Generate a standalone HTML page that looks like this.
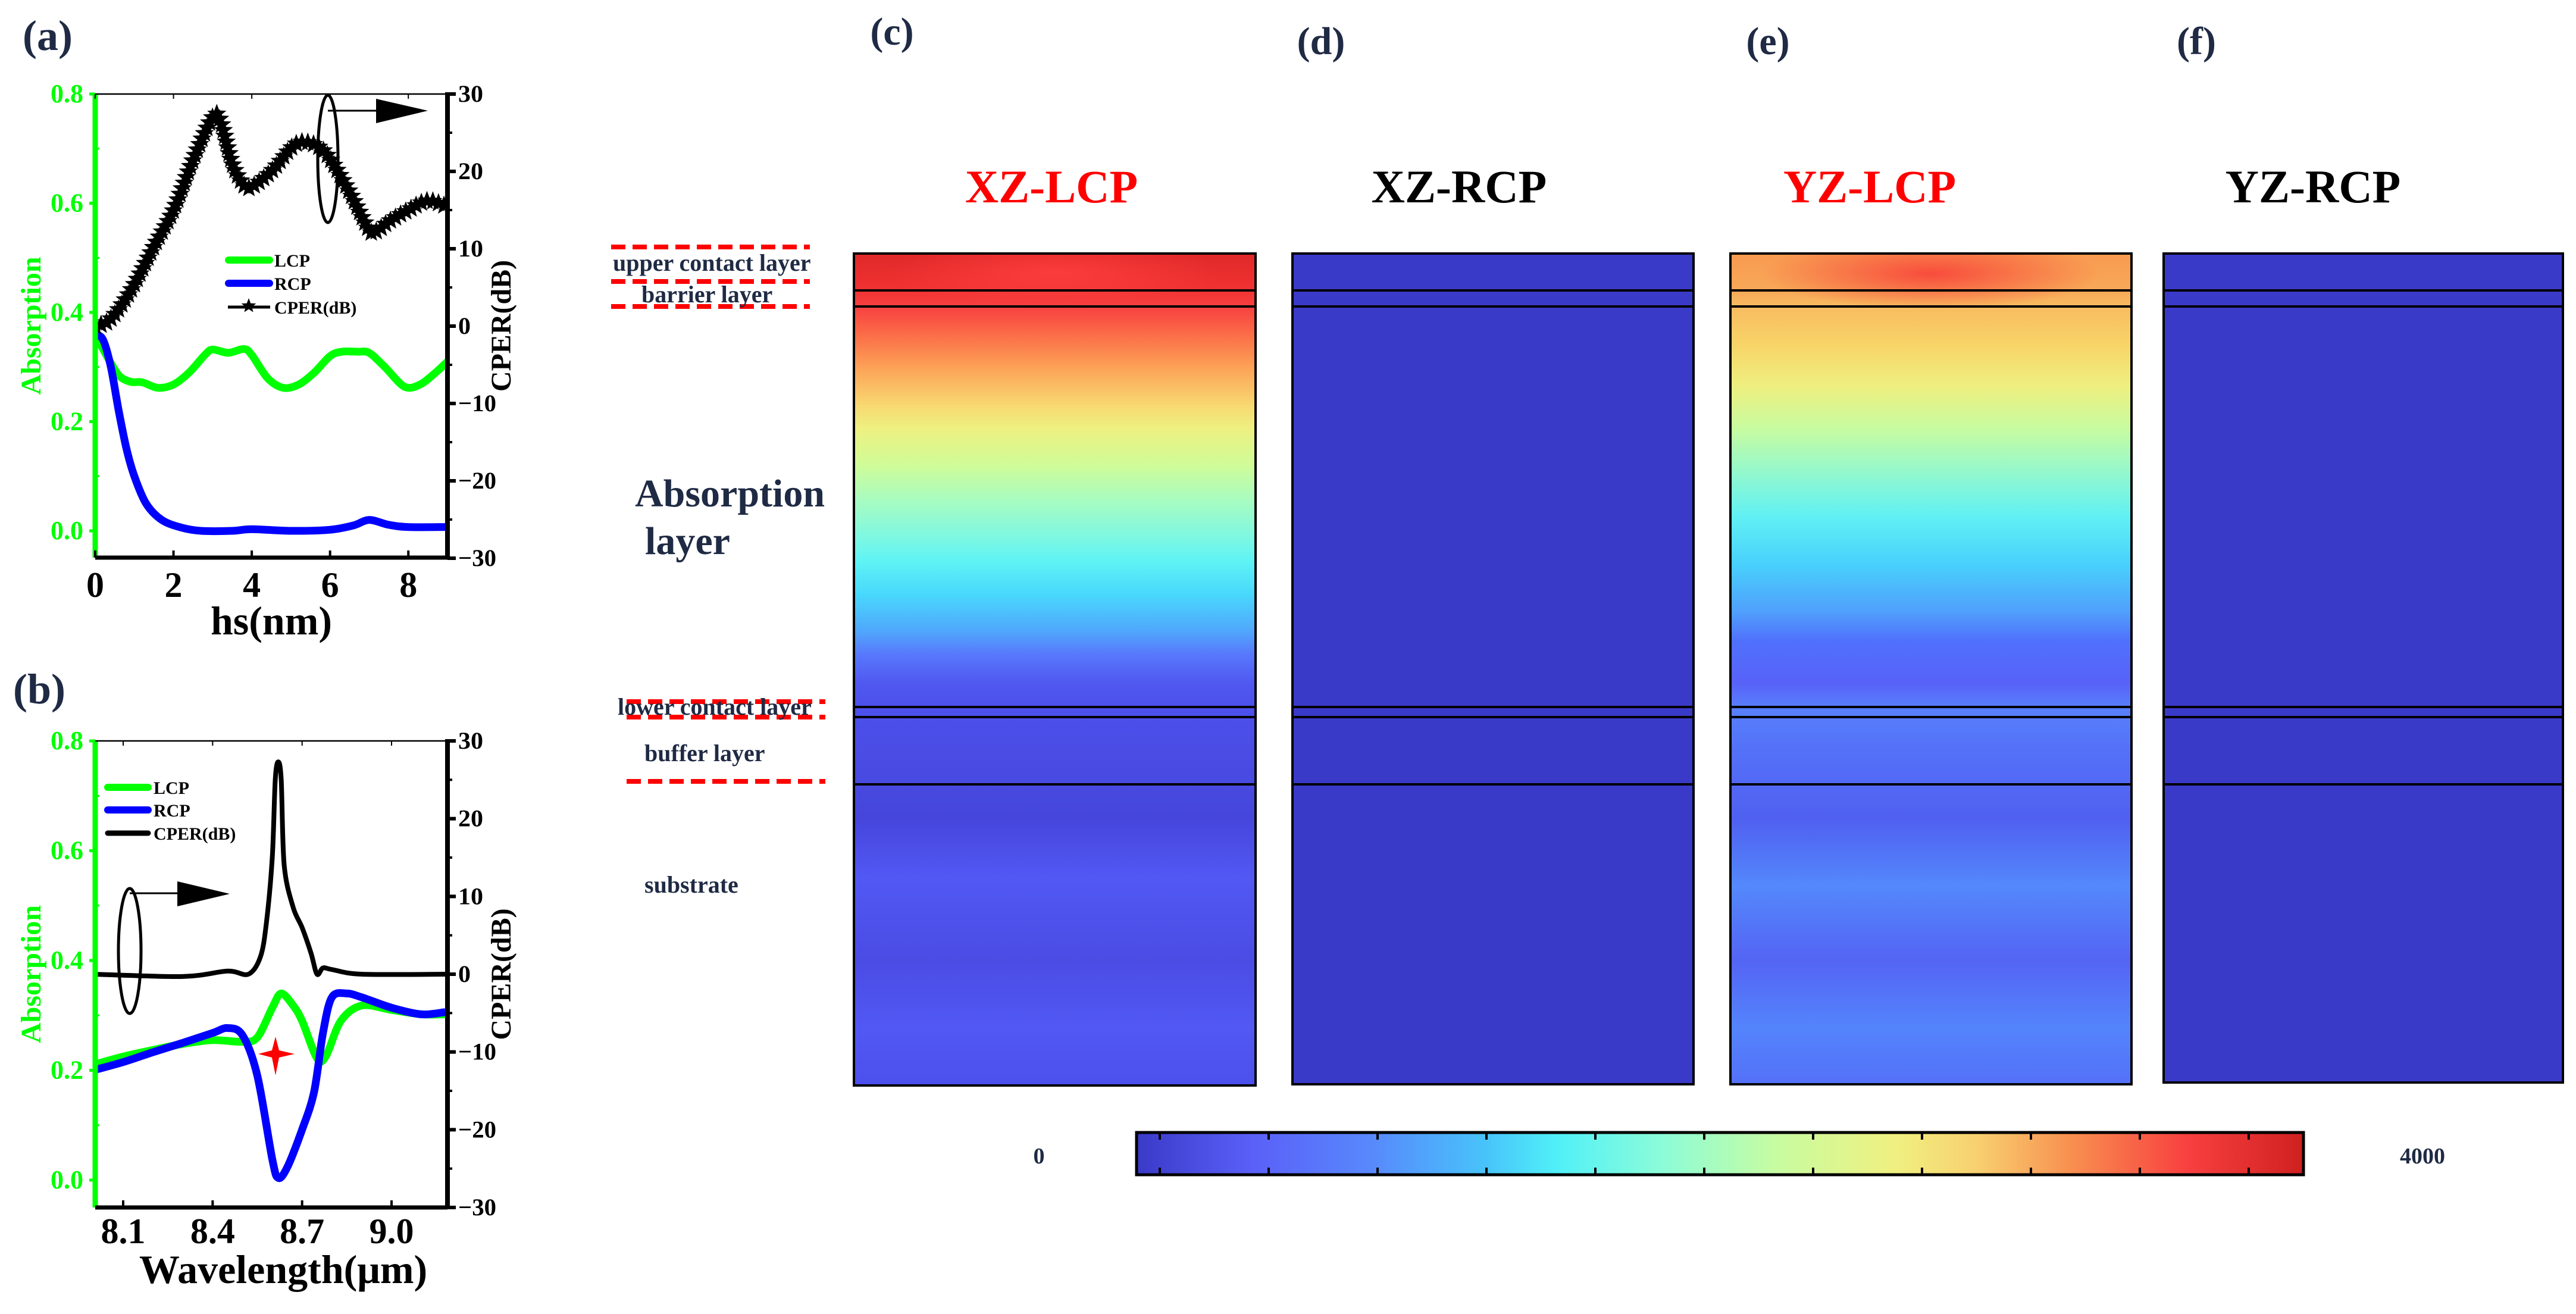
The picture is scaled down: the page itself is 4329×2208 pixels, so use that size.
<!DOCTYPE html>
<html><head><meta charset="utf-8">
<style>
html,body{margin:0;padding:0;background:#fff;}
svg{display:block;}
svg text{font-family:"Liberation Serif","DejaVu Serif",serif;font-weight:bold;}
</style></head>
<body>
<svg id="fig" xmlns="http://www.w3.org/2000/svg" width="4329" height="2208" viewBox="0 0 4329 2208">
<defs>
<linearGradient id="gC" x1="0" y1="426" x2="0" y2="1824" gradientUnits="userSpaceOnUse">
<stop offset="0" stop-color="#e02828"/><stop offset="0.044" stop-color="#f03232"/>
<stop offset="0.064" stop-color="#f84040"/><stop offset="0.1" stop-color="#fb7048"/>
<stop offset="0.139" stop-color="#fca458"/><stop offset="0.182" stop-color="#f8d870"/>
<stop offset="0.21" stop-color="#eef080"/><stop offset="0.254" stop-color="#d0fc98"/>
<stop offset="0.296" stop-color="#a8fcc0"/><stop offset="0.339" stop-color="#80f8e0"/>
<stop offset="0.368" stop-color="#60f4f4"/><stop offset="0.41" stop-color="#48d8fc"/>
<stop offset="0.453" stop-color="#50a8fc"/><stop offset="0.482" stop-color="#5878fc"/>
<stop offset="0.517" stop-color="#5058f0"/><stop offset="0.546" stop-color="#4c50ec"/>
<stop offset="0.6" stop-color="#4a4ce4"/><stop offset="0.68" stop-color="#4646dc"/>
<stop offset="0.75" stop-color="#5258f4"/><stop offset="0.85" stop-color="#4a4ce4"/>
<stop offset="0.93" stop-color="#5258f4"/><stop offset="1" stop-color="#4c50ec"/>
</linearGradient>
<linearGradient id="gE" x1="0" y1="426" x2="0" y2="1824" gradientUnits="userSpaceOnUse">
<stop offset="0" stop-color="#f89a50"/><stop offset="0.044" stop-color="#f8a858"/>
<stop offset="0.064" stop-color="#f8bc60"/><stop offset="0.11" stop-color="#f8d468"/>
<stop offset="0.16" stop-color="#eef080"/><stop offset="0.21" stop-color="#c8fca0"/>
<stop offset="0.267" stop-color="#90f8d0"/><stop offset="0.317" stop-color="#60f0f4"/>
<stop offset="0.374" stop-color="#48d0fc"/><stop offset="0.43" stop-color="#50a0fc"/>
<stop offset="0.466" stop-color="#5070fc"/><stop offset="0.517" stop-color="#5862f8"/>
<stop offset="0.546" stop-color="#5880fc"/><stop offset="0.6" stop-color="#5470f8"/>
<stop offset="0.68" stop-color="#5060f0"/><stop offset="0.76" stop-color="#5488fc"/>
<stop offset="0.85" stop-color="#5464f4"/><stop offset="0.93" stop-color="#5484fc"/>
<stop offset="1" stop-color="#5470f8"/>
</linearGradient>
<radialGradient id="gCtop" cx="0.5" cy="0.5" r="0.5">
<stop offset="0" stop-color="#ff4040" stop-opacity="0.8"/><stop offset="1" stop-color="#ff4040" stop-opacity="0"/>
</radialGradient>
<radialGradient id="gEtop" cx="0.5" cy="0.5" r="0.5">
<stop offset="0" stop-color="#f83c38" stop-opacity="0.85"/><stop offset="1" stop-color="#f83c38" stop-opacity="0"/>
</radialGradient>
<linearGradient id="gBar" x1="0" y1="0" x2="1" y2="0">
<stop offset="0" stop-color="#3a3ac8"/><stop offset="0.1" stop-color="#5a60f8"/>
<stop offset="0.2" stop-color="#5888fc"/><stop offset="0.3" stop-color="#48c4fa"/>
<stop offset="0.36" stop-color="#50f0f8"/><stop offset="0.45" stop-color="#8cfcd8"/>
<stop offset="0.55" stop-color="#c8fca0"/><stop offset="0.65" stop-color="#f0f080"/>
<stop offset="0.72" stop-color="#f8d070"/><stop offset="0.8" stop-color="#f89050"/>
<stop offset="0.9" stop-color="#f84040"/><stop offset="1" stop-color="#d02020"/>
</linearGradient>
</defs>
<g id="root" font-family="Liberation Serif, DejaVu Serif, serif" font-weight="bold"></g>
</svg>
<script>
// ---------- Panel (a) data ----------
const aLcpX = [0,0.3,0.6,0.9,1.2,1.6,2.0,2.4,2.8,3.0,3.4,3.8,4.0,4.4,4.8,5.2,5.6,6.0,6.3,6.7,7.0,7.4,7.9,8.3,8.7,9.0];
const aLcpY = [0.36,0.32,0.285,0.273,0.272,0.262,0.268,0.29,0.322,0.332,0.326,0.333,0.322,0.28,0.262,0.268,0.29,0.32,0.328,0.328,0.326,0.3,0.264,0.268,0.29,0.31];
const aRcpX = [0,0.2,0.4,0.6,0.8,1.0,1.3,1.7,2.2,2.7,3.5,4.0,5.0,6.0,6.6,7.0,7.5,8.0,9.0];
const aRcpY = [0.36,0.35,0.3,0.22,0.15,0.1,0.05,0.02,0.006,0.0,0.0,0.003,0.0,0.002,0.01,0.02,0.011,0.007,0.007];
const aCperX = [0,0.3,0.6,1.0,1.5,2.0,2.5,3.0,3.2,3.5,3.8,4.0,4.5,5.0,5.3,5.7,6.0,6.5,7.0,7.2,7.5,8.0,8.5,9.0];
const aCperY = [0,0.5,2.2,5.4,10.3,15,21.5,27,26.5,21,18.2,18,20,23,23.8,23.2,21.6,17.3,12.4,12.3,13.5,15,16.2,15.4];
const aXTicks = [0,2,4,6,8];
const aYTicks = [0.0,0.2,0.4,0.6,0.8];
const cperTicks = [-30,-20,-10,0,10,20,30];
// ---------- Panel (b) data ----------
const bLcpX = [8.0,8.1,8.2,8.3,8.4,8.5,8.55,8.6,8.63,8.67,8.7,8.75,8.78,8.83,8.9,9.0,9.1,9.18];
const bLcpY = [0.21,0.225,0.237,0.248,0.255,0.252,0.26,0.314,0.34,0.318,0.29,0.222,0.226,0.29,0.318,0.31,0.302,0.302];
const bRcpX = [8.0,8.1,8.2,8.3,8.4,8.45,8.5,8.55,8.6,8.62,8.65,8.7,8.74,8.77,8.8,8.85,8.9,9.0,9.1,9.18];
const bRcpY = [0.2,0.215,0.233,0.25,0.268,0.277,0.264,0.19,0.038,0.004,0.023,0.092,0.16,0.268,0.333,0.34,0.333,0.314,0.302,0.306];
const bCperX = [8.0,8.3,8.45,8.52,8.56,8.58,8.6,8.61,8.62,8.63,8.64,8.67,8.7,8.73,8.75,8.77,8.8,8.9,9.18];
const bCperY = [0,-0.3,0.4,0,2.2,6.5,15,25,27.3,25,14,8.6,6,2.7,0,0.8,0.6,0,0];
const bXTicks = [8.1,8.4,8.7,9.0];
const bYTicks = [0.0,0.2,0.4,0.6,0.8];
// ---------- colorbar ----------
const cbarLabels = ["0","4000"];
const cbarTickCount = 11;

const NS = "http://www.w3.org/2000/svg";
const root = document.getElementById('root');
function mk(tag, attrs, parent, txt){
  const e = document.createElementNS(NS, tag);
  for (const k in attrs) e.setAttribute(k, attrs[k]);
  if (txt !== undefined) e.textContent = txt;
  (parent||root).appendChild(e);
  return e;
}
function lin(d0,d1,r0,r1){ return v => r0 + (v-d0)/(d1-d0)*(r1-r0); }
function smoothPath(xs, ys, sx, sy){
  const p = xs.map((x,i)=>[sx(x), sy(ys[i])]);
  let d = `M${p[0][0]},${p[0][1]}`;
  for (let i=0;i<p.length-1;i++){
    const p0=p[Math.max(0,i-1)], p1=p[i], p2=p[i+1], p3=p[Math.min(p.length-1,i+2)];
    const t=0.16;
    const c1=[p1[0]+(p2[0]-p0[0])*t, p1[1]+(p2[1]-p0[1])*t];
    const c2=[p2[0]-(p3[0]-p1[0])*t, p2[1]-(p3[1]-p1[1])*t];
    d += ` C${c1[0]},${c1[1]} ${c2[0]},${c2[1]} ${p2[0]},${p2[1]}`;
  }
  return d;
}
function star5(cx, cy, r){
  let d='';
  for (let i=0;i<10;i++){
    const a = -Math.PI/2 + i*Math.PI/5, rr = i%2? r*0.42 : r;
    d += (i?'L':'M') + (cx+rr*Math.cos(a)).toFixed(1)+','+(cy+rr*Math.sin(a)).toFixed(1);
  }
  return d+'Z';
}

function panel(cfg){
  const {L,R,T,B,sx,sy,sy2,g} = cfg;
  let e = mk('line',{x1:L,y1:T,x2:L,y2:B,stroke:'#00ff00','stroke-width':9},g);
   
  e = mk('line',{x1:L,y1:B,x2:R,y2:B,stroke:'#000','stroke-width':7},g);
   
  e = mk('line',{x1:L,y1:T,x2:R,y2:T,stroke:'#000','stroke-width':2.5},g);
   
  e = mk('line',{x1:R,y1:T-3,x2:R,y2:B+3,stroke:'#000','stroke-width':8},g);
   
  cfg.yTicks.forEach(v=>{
    const y = sy(v);
    mk('line',{x1:L-10,y1:y,x2:L,y2:y,stroke:'#00ff00','stroke-width':5},g);
    const t = mk('text',{x:L-20,y:y+14,'text-anchor':'end','font-size':44,fill:'#00ff00'},g,v.toFixed(1));
     
  });
  cfg.yTicks.slice(0,-1).forEach(v=>{ const y=sy(v+0.1); mk('line',{x1:L,y1:y,x2:L+7,y2:y,stroke:'#00ff00','stroke-width':3},g); });
  cperTicks.forEach(v=>{
    const y = sy2(v);
    mk('line',{x1:R,y1:y,x2:R+14,y2:y,stroke:'#000','stroke-width':6},g);
    if (v<30) mk('line',{x1:R,y1:sy2(v+5),x2:R+8,y2:sy2(v+5),stroke:'#000','stroke-width':4},g);
    const t = mk('text',{x:R+18,y:y+13,'font-size':40,fill:'#000',textLength:(String(Math.abs(v)).length*21+(v<0?22:0)),lengthAdjust:'spacingAndGlyphs'},g,(v<0?'\u2212':'')+Math.abs(v));
     
  });
  cfg.xTicks.forEach(v=>{
    const x = sx(v);
    mk('line',{x1:x,y1:B,x2:x,y2:B-12,stroke:'#000','stroke-width':4},g);
    mk('line',{x1:x,y1:T,x2:x,y2:T+8,stroke:'#000','stroke-width':2},g);
    const t = mk('text',{x:x,y:cfg.xlabY,'text-anchor':'middle','font-size':60,fill:'#000'},g,cfg.fmt(v));
     
  });
  let t = mk('text',{x:(L+R)/2+(cfg.xtOff||0),y:cfg.xtitleY,'text-anchor':'middle','font-size':68,fill:'#000'},g,cfg.xtitle);
   
  t = mk('text',{x:0,y:0,'text-anchor':'middle','font-size':48,fill:'#00ff00',transform:`translate(${L-92},${(T+B)/2}) rotate(-90)`},g,'Absorption');
   
  t = mk('text',{x:0,y:0,'text-anchor':'middle','font-size':48,fill:'#000',transform:`translate(${R+106},${(T+B)/2}) rotate(-90)`},g,'CPER(dB)');
   
}

// ===== Panel (a) =====
(function(){
  const g = mk('g',{});  
  const L=160,R=752,T=158,B=937;
  const sx = lin(0,9,160,752), sy = lin(0,0.8,892,158), sy2 = lin(-30,30,938,158);
  let e = mk('text',{x:38,y:84,'font-size':72,fill:'#1f2a44'},g,'(a)');
   
  const clip = mk('clipPath',{id:'clipA'},g); mk('rect',{x:L,y:T-20,width:R-L,height:B-T+20},clip);
  const pg = mk('g',{'clip-path':'url(#clipA)'},g);
  e = mk('path',{d:smoothPath(aLcpX,aLcpY,sx,sy),fill:'none',stroke:'#00ff00','stroke-width':13,'stroke-linejoin':'round'},pg);
   
  e = mk('path',{d:smoothPath(aRcpX,aRcpY,sx,sy),fill:'none',stroke:'#0000ff','stroke-width':13,'stroke-linejoin':'round'},pg);
   
  const cp = mk('path',{d:smoothPath(aCperX,aCperY,sx,sy2),fill:'none',stroke:'#000','stroke-width':8},pg);
   
  const len = cp.getTotalLength();
  const sg = mk('g',{},pg);  
  for (let s=0; s<=len; s+=10){
    const p = cp.getPointAtLength(s);
    mk('path',{d:star5(p.x,p.y,17),fill:'#000'},sg);
  }
  panel({L,R,T,B,sx,sy,sy2,g,yTicks:aYTicks,xTicks:aXTicks,fmt:v=>String(v),xlabY:1003,xtitleY:1066,xtitle:'hs(nm)',xtOff:0});
  e = mk('ellipse',{cx:551,cy:267,rx:17,ry:107,fill:'none',stroke:'#000','stroke-width':5},g);
   
  mk('line',{x1:551,y1:186,x2:640,y2:186,stroke:'#000','stroke-width':3},g);
  e = mk('path',{d:'M632,166 L719,186 L632,207 Z',fill:'#000'},g);
   
  const lg = mk('g',{},g);  
  mk('line',{x1:384,y1:437,x2:453,y2:437,stroke:'#00ff00','stroke-width':12,'stroke-linecap':'round'},lg);
  mk('text',{x:461,y:448,'font-size':30,fill:'#000'},lg,'LCP');
  mk('line',{x1:384,y1:476,x2:453,y2:476,stroke:'#0000ff','stroke-width':12,'stroke-linecap':'round'},lg);
  mk('text',{x:461,y:487,'font-size':30,fill:'#000'},lg,'RCP');
  mk('line',{x1:383,y1:516,x2:454,y2:516,stroke:'#000','stroke-width':5},lg);
  mk('path',{d:star5(418,514,13),fill:'#000'},lg);
  mk('text',{x:461,y:527,'font-size':30,fill:'#000'},lg,'CPER(dB)');
})();

// ===== Panel (b) =====
(function(){
  const g = mk('g',{});  
  const L=160,R=752,T=1245,B=2029;
  const sx = lin(8.1,9.0,207,658), sy = lin(0,0.8,1983,1245), sy2 = lin(-30,30,2029,1245);
  let e = mk('text',{x:22,y:1182,'font-size':72,fill:'#1f2a44'},g,'(b)');
   
  const clip = mk('clipPath',{id:'clipB'},g); mk('rect',{x:L,y:T-20,width:R-L,height:B-T+20},clip);
  const pg = mk('g',{'clip-path':'url(#clipB)'},g);
  e = mk('path',{d:smoothPath(bLcpX,bLcpY,sx,sy),fill:'none',stroke:'#00ff00','stroke-width':13,'stroke-linejoin':'round'},pg);
   
  e = mk('path',{d:smoothPath(bRcpX,bRcpY,sx,sy),fill:'none',stroke:'#0000ff','stroke-width':13,'stroke-linejoin':'round'},pg);
   
  e = mk('path',{d:smoothPath(bCperX,bCperY,sx,sy2),fill:'none',stroke:'#000','stroke-width':8,'stroke-linejoin':'round'},pg);
   
  panel({L,R,T,B,sx,sy,sy2,g,yTicks:bYTicks,xTicks:bXTicks,fmt:v=>v.toFixed(1),xlabY:2089,xtitleY:2156,xtitle:'Wavelength(\u03bcm)',xtOff:20});
  e = mk('ellipse',{cx:218,cy:1598,rx:19,ry:105,fill:'none',stroke:'#000','stroke-width':5},g);
   
  mk('line',{x1:218,y1:1501,x2:305,y2:1501,stroke:'#000','stroke-width':3},g);
  e = mk('path',{d:'M298,1481 L386,1502 L298,1523 Z',fill:'#000'},g);
   
  e = mk('path',{d:'M463,1742 L469,1765 L495,1771 L469,1777 L463,1807 L457,1777 L434,1771 L457,1765 Z',fill:'#ff0000'},g);
   
  const lg = mk('g',{},g);  
  mk('line',{x1:181,y1:1323,x2:249,y2:1323,stroke:'#00ff00','stroke-width':12,'stroke-linecap':'round'},lg);
  mk('text',{x:258,y:1334,'font-size':30,fill:'#000'},lg,'LCP');
  mk('line',{x1:181,y1:1361,x2:249,y2:1361,stroke:'#0000ff','stroke-width':12,'stroke-linecap':'round'},lg);
  mk('text',{x:258,y:1372,'font-size':30,fill:'#000'},lg,'RCP');
  mk('line',{x1:181,y1:1400,x2:249,y2:1400,stroke:'#000','stroke-width':9,'stroke-linecap':'round'},lg);
  mk('text',{x:258,y:1411,'font-size':30,fill:'#000'},lg,'CPER(dB)');
})();

// ===== Field maps =====
const mapNames = ["XZ-LCP","XZ-RCP","YZ-LCP","YZ-RCP"];
const mapLetters = ["(c)","(d)","(e)","(f)"];
(function(){
  const maps = [
    {x:1435,w:675,b:1824,fill:'url(#gC)',top:'url(#gCtop)',tc:'#ff0000',lab:[1499,75],tx:1767},
    {x:2172,w:674,b:1822,fill:'#3a3ac8',tc:'#000',lab:[2220,91],tx:2452},
    {x:2908,w:674,b:1822,fill:'url(#gE)',top:'url(#gEtop)',tc:'#ff0000',lab:[2971,91],tx:3142},
    {x:3636,w:671,b:1819,fill:'#3a3ac8',tc:'#000',lab:[3691,91],tx:3887}
  ];
  maps.forEach((m,i)=>{
    const g = mk('g',{});  
    let e = mk('text',{x:m.lab[0],y:m.lab[1],'font-size':66,fill:'#1f2a44','text-anchor':'middle'},g,mapLetters[i]);
     
    e = mk('text',{x:m.tx,y:340,'font-size':78,fill:m.tc,'text-anchor':'middle'},g,mapNames[i]);
     
    e = mk('rect',{x:m.x,y:426,width:m.w,height:m.b-426,fill:m.fill},g);
     
    if (m.top){
      const cid = 'clipMap'+i;
      const c = mk('clipPath',{id:cid},g); mk('rect',{x:m.x,y:426,width:m.w,height:m.b-426},c);
      mk('ellipse',{cx:m.x+m.w/2,cy:460,rx:m.w*0.42,ry:60,fill:m.top,'clip-path':`url(#${cid})`},g);
    }
    mk('rect',{x:m.x,y:426,width:m.w,height:m.b-426,fill:'none',stroke:'#000','stroke-width':4},g);
    [488,515,1188,1205,1318].forEach(y=>{
      mk('line',{x1:m.x,y1:y,x2:m.x+m.w,y2:y,stroke:'#000','stroke-width':4},g);
    });
  });
  const ag = mk('g',{});  
  const dash = {stroke:'#ff0000','stroke-width':8,'stroke-dasharray':'24,12'};
  [[1027,1361,415],[1027,1361,473],[1027,1361,515],[1053,1387,1179],[1053,1387,1205],[1053,1387,1313]].forEach(d=>{
    mk('line',Object.assign({x1:d[0],y1:d[2],x2:d[1],y2:d[2]},dash),ag);
  });
  const ts = {'font-size':40,fill:'#1f2a44'};
  mk('text',Object.assign({x:1030,y:455},ts),ag,'upper contact layer');
  mk('text',Object.assign({x:1078,y:508},ts),ag,'barrier layer');
  mk('text',Object.assign({x:1038,y:1201},ts),ag,'lower contact layer');
  mk('text',Object.assign({x:1083,y:1279},ts),ag,'buffer layer');
  mk('text',Object.assign({x:1083,y:1500},ts),ag,'substrate');
  mk('text',{x:1067,y:851,'font-size':66,fill:'#1f2a44'},ag,'Absorption');
  mk('text',{x:1084,y:931,'font-size':66,fill:'#1f2a44'},ag,'layer');
  const cg = mk('g',{});  
  mk('rect',{x:1910,y:1903,width:1961,height:71,fill:'url(#gBar)',stroke:'#000','stroke-width':5},cg);
  for (let i=0;i<cbarTickCount;i++){
    const x = 1949 + i*183;
    mk('line',{x1:x,y1:1903,x2:x,y2:1915,stroke:'#000','stroke-width':4},cg);
    mk('line',{x1:x,y1:1962,x2:x,y2:1974,stroke:'#000','stroke-width':4},cg);
  }
  let e = mk('text',{x:1746,y:1955,'font-size':38,fill:'#1f2a44','text-anchor':'middle'},cg,cbarLabels[0]);
   
  e = mk('text',{x:4071,y:1955,'font-size':38,fill:'#1f2a44','text-anchor':'middle'},cg,cbarLabels[1]);
   
})();
</script>
</body></html>
